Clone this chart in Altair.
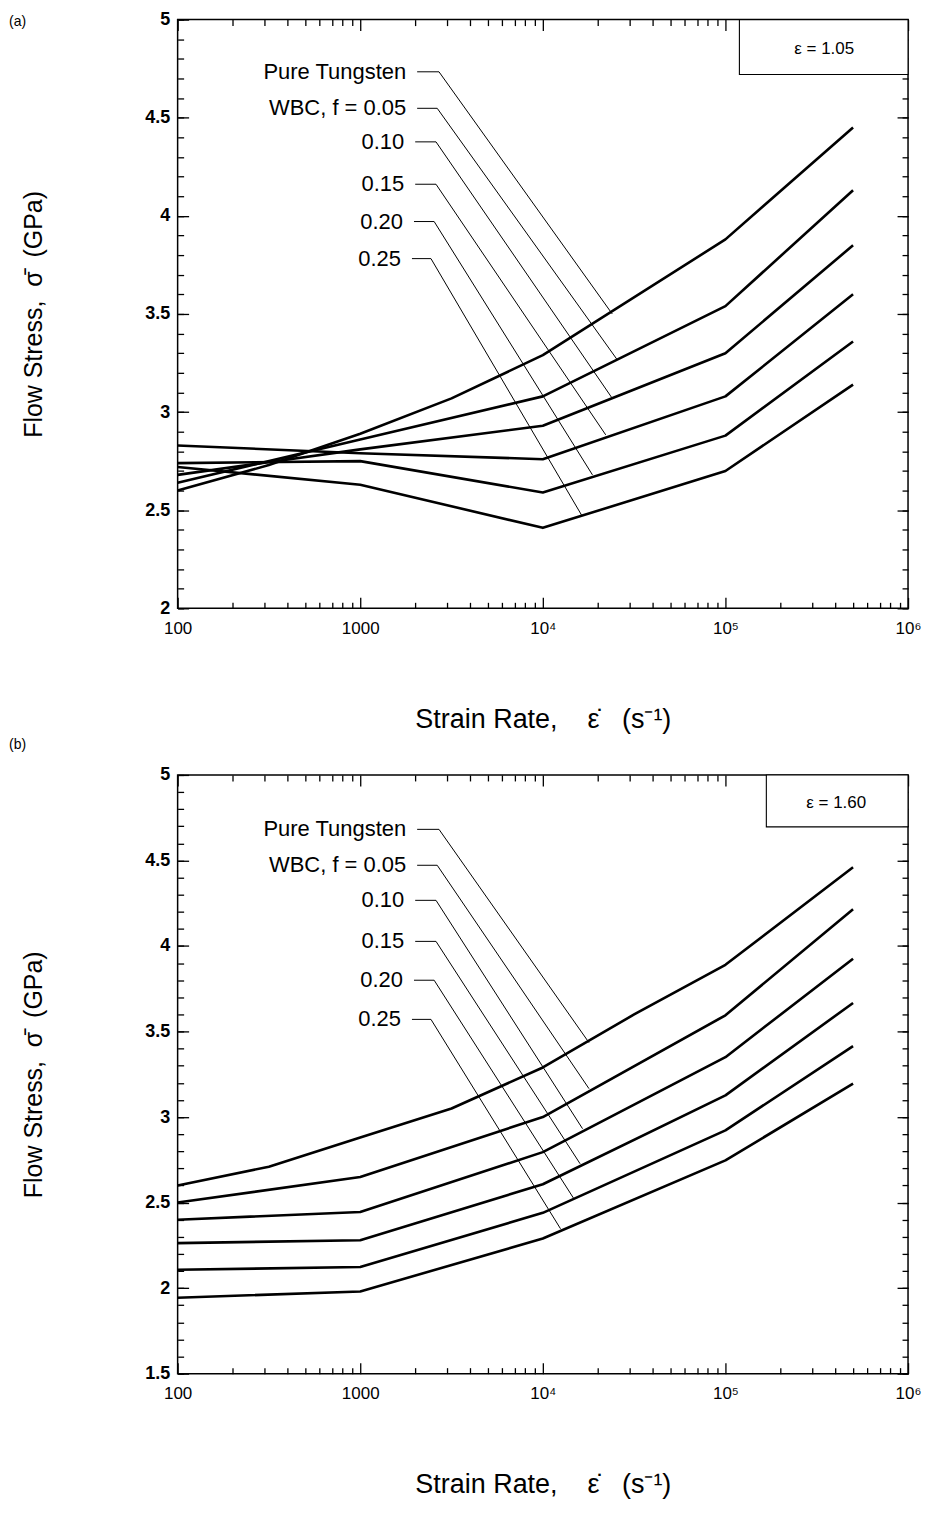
import altair as alt
import pandas as pd

FONT = "Liberation Sans"
NB = "\u00a0"

# ---------------- data ----------------
series = ["Pure Tungsten", "WBC, f = 0.05", "0.10", "0.15", "0.20", "0.25"]

# Panel (a): strain = 1.05
a_pure_rate = [100, 316, 1000, 3162, 10000, 100000, 500000]
a_pure_stress = [2.60, 2.73, 2.89, 3.07, 3.29, 3.88, 4.45]
a_rate = [100, 1000, 10000, 100000, 500000]
a_f05 = [2.64, 2.86, 3.08, 3.54, 4.13]
a_f10 = [2.68, 2.81, 2.93, 3.30, 3.85]
a_f15 = [2.83, 2.79, 2.76, 3.08, 3.60]
a_f20 = [2.74, 2.75, 2.59, 2.88, 3.36]
a_f25 = [2.72, 2.63, 2.41, 2.70, 3.14]

# Panel (b): strain = 1.60
b_pure_rate = [100, 316, 1000, 3162, 10000, 31623, 100000, 500000]
b_pure_stress = [2.60, 2.71, 2.88, 3.05, 3.29, 3.60, 3.89, 4.46]
b_rate = [100, 1000, 10000, 100000, 500000]
b_f05 = [2.50, 2.65, 3.00, 3.595, 4.215]
b_f10 = [2.40, 2.445, 2.795, 3.35, 3.926]
b_f15 = [2.263, 2.28, 2.607, 3.127, 3.667]
b_f20 = [2.107, 2.123, 2.44, 2.922, 3.415]
b_f25 = [1.944, 1.98, 2.29, 2.747, 3.195]

# leader lines: start / elbow of the short horizontal stroke, end on the curve
leader_x0 = [2050, 2050, 2000, 2000, 1970, 1920]
leader_x1 = [2700, 2640, 2600, 2600, 2540, 2440]
a_label_stress = [4.734, 4.548, 4.377, 4.161, 3.971, 3.782]
a_end_rate = [24000, 25400, 23800, 22100, 18700, 16300]
a_end_stress = [3.50, 3.27, 3.075, 2.884, 2.68, 2.475]
b_label_stress = [4.682, 4.472, 4.267, 4.027, 3.80, 3.571]
b_end_rate = [17900, 17900, 16500, 16000, 14700, 12500]
b_end_stress = [3.435, 3.166, 2.932, 2.727, 2.527, 2.347]

x_major = [100, 1000, 10000, 100000, 1000000]
x_minor = [m * 10 ** k for k in range(2, 6) for m in range(2, 10)]
a_y_major = [2, 2.5, 3, 3.5, 4, 4.5, 5]
b_y_major = [1.5, 2, 2.5, 3, 3.5, 4, 4.5, 5]
a_y_minor = [round(2 + 0.1 * i, 1) for i in range(31)]
b_y_minor = [round(1.5 + 0.1 * i, 1) for i in range(36)]

W = 732
HA = 590
HB = 600

X_TITLE = "Strain Rate," + NB * 3 + " \u03b5\u0307" + NB * 2 + " (s\u207b\u00b9)"
Y_TITLE = "Flow Stress," + NB + " \u03c3\u0304" + NB + " (GPa)"


def curves_df(pure_rate, pure_stress, rate, others):
    rows = [dict(series=series[0], rate=r, stress=s) for r, s in zip(pure_rate, pure_stress)]
    for name, vals in zip(series[1:], others):
        rows += [dict(series=name, rate=r, stress=s) for r, s in zip(rate, vals)]
    return pd.DataFrame(rows)


def leader_df(label_stress, end_rate, end_stress):
    rows = []
    for i, name in enumerate(series):
        rows.append(dict(series=name, seq=0, rate=leader_x0[i], stress=label_stress[i]))
        rows.append(dict(series=name, seq=1, rate=leader_x1[i], stress=label_stress[i]))
        rows.append(dict(series=name, seq=2, rate=end_rate[i], stress=end_stress[i]))
    return pd.DataFrame(rows)


def label_df(label_stress):
    return pd.DataFrame(dict(series=series, rate=leader_x0, stress=label_stress))


X_LABELS = ("datum.value == 100 ? '100' : datum.value == 1000 ? '1000' : "
            "datum.value == 10000 ? '10\u2074' : datum.value == 100000 ? '10\u2075' : '10\u2076'")


def panel(curves, leaders, labels, ydom, ymaj, ymin, H, tag, tag_y, eps, box_left, box_h, eps_x):
    xs = alt.Scale(type="log", domain=[100, 1000000], nice=False)
    ys = alt.Scale(domain=ydom, nice=False, zero=False)
    one = pd.DataFrame({"k": [0]})

    main = alt.Chart(curves).mark_line(color="black", strokeWidth=2.6, strokeJoin="round").encode(
        x=alt.X("rate:Q", scale=xs, axis=alt.Axis(
            orient="bottom", values=x_major, ticks=False, domain=False, grid=False,
            labelExpr=X_LABELS, labelFontSize=17, labelPadding=12, labelOverlap=False,
            labelFlush=False, title=X_TITLE,
            titleFontSize=27, titleFontWeight="normal", titlePadding=70)),
        y=alt.Y("stress:Q", scale=ys, axis=alt.Axis(
            orient="left", values=ymaj, format="~g", ticks=False, domain=False, grid=False,
            labelFontSize=18, labelFontWeight="bold", labelPadding=8,
            title=Y_TITLE, titleFontSize=25,
            titleFontWeight="normal", titlePadding=98)),
        detail="series:N",
    )

    lead = alt.Chart(leaders).mark_line(color="black", strokeWidth=1).encode(
        x=alt.X("rate:Q", scale=xs, axis=None),
        y=alt.Y("stress:Q", scale=ys, axis=None),
        detail="series:N",
        order="seq:Q",
    )

    txt = alt.Chart(labels).mark_text(align="right", baseline="middle", dx=-11, fontSize=22,
                                       font=FONT, color="black").encode(
        x=alt.X("rate:Q", scale=xs, axis=None),
        y=alt.Y("stress:Q", scale=ys, axis=None),
        text="series:N",
    )

    box = alt.Chart(one).mark_rect(fill="white", stroke="black", strokeWidth=1.1).encode(
        x=alt.value(box_left), x2=alt.value(W), y=alt.value(0), y2=alt.value(box_h))

    eps_t = alt.Chart(one).mark_text(align="center", baseline="middle", fontSize=17,
                                     font=FONT, color="black").encode(
        x=alt.value(eps_x), y=alt.value(box_h / 2 + 2), text=alt.value(eps))

    tag_t = alt.Chart(one).mark_text(align="left", baseline="middle", fontSize=14,
                                     font=FONT, color="black").encode(
        x=alt.value(-169), y=alt.value(tag_y), text=alt.value(tag))

    def ticks(xorient, yorient, xv, yv, size):
        return alt.Chart(curves).mark_point(opacity=0).encode(
            x=alt.X("rate:Q", scale=xs, axis=alt.Axis(
                orient=xorient, offset=-H, values=xv, tickSize=size, tickWidth=1.3,
                tickColor="black", labels=False, domain=False, grid=False, title=None)),
            y=alt.Y("stress:Q", scale=ys, axis=alt.Axis(
                orient=yorient, offset=-W, values=yv, tickSize=size, tickWidth=1.3,
                tickColor="black", labels=False, domain=False, grid=False, title=None)),
        )

    t1 = ticks("top", "right", x_major, ymaj, 11)
    t2 = ticks("top", "right", x_minor, ymin, 6)
    t3 = ticks("bottom", "left", x_major, ymaj, 11)
    t4 = ticks("bottom", "left", x_minor, ymin, 6)

    return alt.layer(main, lead, txt, box, eps_t, tag_t, t1, t2, t3, t4).resolve_axis(
        x="independent", y="independent").properties(width=W, height=H)


pa = panel(
    curves_df(a_pure_rate, a_pure_stress, a_rate, [a_f05, a_f10, a_f15, a_f20, a_f25]),
    leader_df(a_label_stress, a_end_rate, a_end_stress),
    label_df(a_label_stress),
    [2, 5], a_y_major, a_y_minor, HA, "(a)", 2, "\u03b5 = 1.05", 563, 55, 648)

pb = panel(
    curves_df(b_pure_rate, b_pure_stress, b_rate, [b_f05, b_f10, b_f15, b_f20, b_f25]),
    leader_df(b_label_stress, b_end_rate, b_end_stress),
    label_df(b_label_stress),
    [1.5, 5], b_y_major, b_y_minor, HB, "(b)", -30, "\u03b5 = 1.60", 590, 52, 660)

chart = alt.vconcat(pa, pb, spacing=4).configure_view(
    stroke="black", strokeWidth=1.5
).configure_axis(
    labelFont=FONT, titleFont=FONT, labelColor="black", titleColor="black"
).properties(background="white", padding=0)

chart.save("out.html", embed_options={"renderer": "svg", "actions": False})
